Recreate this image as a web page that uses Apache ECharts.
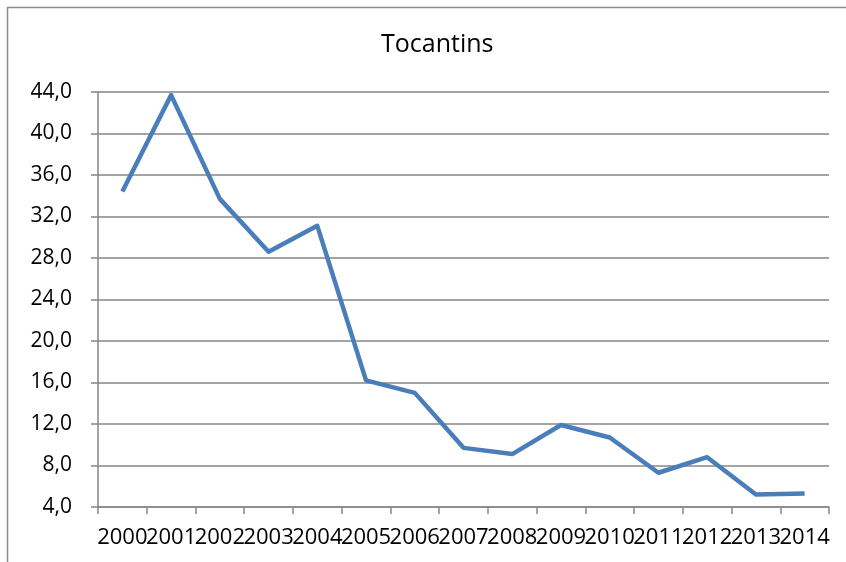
<!DOCTYPE html>
<html>
<head>
<meta charset="utf-8">
<script src="https://cdn.jsdelivr.net/npm/echarts@6/dist/echarts.min.js"></script>
<style>html,body{margin:0;padding:0;background:#fff}#c{width:846px;height:562px}</style>
</head>
<body>
<div id="c"></div>
<script>
const years = ['2000','2001','2002','2003','2004','2005','2006','2007','2008','2009','2010','2011','2012','2013','2014'];
const values = [34.4, 43.7, 33.7, 28.6, 31.1, 16.2, 15.0, 9.7, 9.1, 11.9, 10.7, 7.3, 8.8, 5.2, 5.3];
const titleText = 'Tocantins';
const yMin = 4, yMax = 44, yStep = 4;

const chart = echarts.init(document.getElementById('c'), null, {renderer: 'canvas'});
const font = '"Open Sans", "Liberation Sans", sans-serif';
chart.setOption({
  animation: false,
  backgroundColor: '#fff',
  title: {
    text: titleText,
    left: 376, top: 27,
    textStyle: {fontFamily: font, fontSize: 25, fontWeight: 'normal', color: '#000'}
  },
  graphic: [{
    type: 'rect', silent: true,
    shape: {x: 7.5, y: 7.5, width: 850, height: 570},
    style: {fill: 'none', stroke: '#8c8c8c', lineWidth: 1.5}
  }],
  grid: {left: 98, right: 17, top: 92, bottom: 55, containLabel: false},
  xAxis: {
    type: 'category', data: years, boundaryGap: true,
    axisLine: {lineStyle: {color: '#868686', width: 1.5}},
    axisTick: {show: true, inside: false, length: 7, interval: 0, lineStyle: {color: '#868686', width: 1.5}},
    axisLabel: {interval: 0, margin: 20, fontFamily: font, fontSize: 22, color: '#000', hideOverlap: false},
    splitLine: {show: false}
  },
  yAxis: {
    type: 'value', min: yMin, max: yMax, interval: yStep,
    axisLine: {show: true, lineStyle: {color: '#868686', width: 1.5}},
    axisTick: {show: true, length: 7, lineStyle: {color: '#868686', width: 1.5}},
    axisLabel: {margin: 26, fontFamily: font, fontSize: 21, color: '#000',
      formatter: v => v.toFixed(1).replace('.', ',')},
    splitLine: {show: true, lineStyle: {color: '#868686', width: 1.5}}
  },
  series: [{
    type: 'line', data: values, symbol: 'none',
    lineStyle: {color: '#4a7ebb', width: 4.5, join: 'round'},
    itemStyle: {color: '#4a7ebb'}
  }]
});
</script>
</body>
</html>
